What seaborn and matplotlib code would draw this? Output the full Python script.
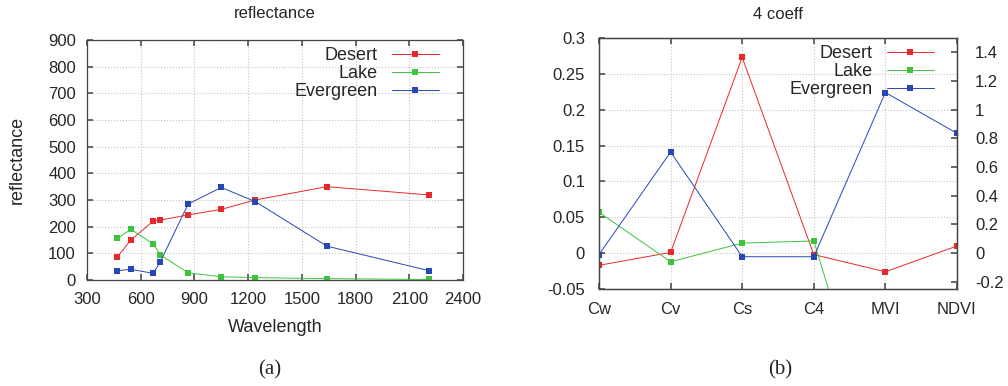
import numpy as np
import pandas as pd
import matplotlib
matplotlib.use("Agg")
import matplotlib.pyplot as plt
import seaborn as sns

# datos panel (a)
wavelength = [470, 545, 670, 710, 865, 1050, 1240, 1640, 2210]
desert_refl = [87, 150, 221, 225, 244, 265, 300, 350, 319]
lake_refl = [156, 190, 135, 94, 27, 12, 9, 5, 2]
evergreen_refl = [35, 40, 25, 69, 285, 347, 294, 127, 35]

# datos panel (b)
coeffs = ["Cw", "Cv", "Cs", "C4", "MVI", "NDVI"]
desert_coef = [-0.017, 0.001, 0.273, -0.002, -0.026, 0.01]
lake_coef = [0.057, -0.012, 0.014, 0.017, -0.31, -0.3]
evergreen_coef = [-0.002, 0.141, -0.005, -0.005, 0.224, 0.167]

series = ["Desert", "Lake", "Evergreen"]
colores = {"Desert": "#e8282a", "Lake": "#3cc43c", "Evergreen": "#2846b4"}

sns.set_theme(style="ticks")
plt.rcParams["font.family"] = ["Liberation Sans", "DejaVu Sans"]

df_a = pd.concat([
    pd.DataFrame({"x": wavelength, "y": vals, "serie": name})
    for name, vals in zip(series, [desert_refl, lake_refl, evergreen_refl])
])
pos = np.arange(len(coeffs))
df_b = pd.concat([
    pd.DataFrame({"x": pos, "y": vals, "serie": name})
    for name, vals in zip(series, [desert_coef, lake_coef, evergreen_coef])
])

fig = plt.figure(figsize=(10.08, 3.86), dpi=100)
ax1 = fig.add_axes([87 / 1008, 1 - 280 / 386, 376 / 1008, 240 / 386])
ax2 = fig.add_axes([599 / 1008, 1 - 289 / 386, 358 / 1008, 251 / 386])


def estilo(ax, pad_y):
    ax.grid(True, linestyle=":", color="#c4c4c4", linewidth=0.8)
    ax.tick_params(direction="in", top=True, right=True, labelsize=12,
                   color="#555555", length=4)
    ax.tick_params(axis="y", pad=pad_y)
    ax.tick_params(axis="x", pad=9)
    for s in ax.spines.values():
        s.set_color("#444444")
        s.set_linewidth(0.9)


def leyenda(ax):
    ax.legend(loc="upper right", frameon=False, markerfirst=False, fontsize=13,
              handlelength=2.6, labelspacing=0.05, borderaxespad=0.0,
              handletextpad=0.8, bbox_to_anchor=(0.955, 1.0))


# panel (a)
sns.lineplot(data=df_a, x="x", y="y", hue="serie", hue_order=series,
             palette=colores, marker="s", markersize=5, markeredgewidth=0,
             linewidth=0.7, ax=ax1)
ax1.set_xlim(300, 2400)
ax1.set_ylim(0, 900)
ax1.set_xticks(np.arange(300, 2401, 300))
ax1.set_yticks(np.arange(0, 901, 100))
ax1.set_xlabel("Wavelength", fontsize=13, labelpad=8)
ax1.set_ylabel("reflectance", fontsize=13, labelpad=16)
ax1.set_title("reflectance", fontsize=12, pad=16)
estilo(ax1, 8)
leyenda(ax1)

# panel (b)
sns.lineplot(data=df_b, x="x", y="y", hue="serie", hue_order=series,
             palette=colores, marker="s", markersize=5, markeredgewidth=0,
             linewidth=0.7, ax=ax2)
ax2.set_xlim(0, len(coeffs) - 1)
ax2.set_ylim(-0.05, 0.3)
ax2.set_xticks(pos)
ax2.set_xticklabels(coeffs)
ax2.set_yticks(np.arange(-0.05, 0.301, 0.05))
ax2.set_yticklabels(["-0.05", "0", "0.05", "0.1", "0.15", "0.2", "0.25", "0.3"])
ax2.set_xlabel("")
ax2.set_ylabel("")
ax2.set_title("4 coeff", fontsize=12, pad=14)
estilo(ax2, 10)
ax2.tick_params(right=False)
leyenda(ax2)

ax3 = ax2.twinx()
ax3.set_ylim(-0.25, 1.5)
ax3.set_yticks(np.arange(-0.2, 1.41, 0.2))
ax3.set_yticklabels(["-0.2", "0", "0.2", "0.4", "0.6", "0.8", "1", "1.2", "1.4"])
ax3.tick_params(direction="in", labelsize=12, color="#555555", length=4, pad=13)
for s in ax3.spines.values():
    s.set_color("#444444")
    s.set_linewidth(0.9)

fig.text(270 / 1008, 1 - 370 / 386, "(a)", fontsize=15, ha="center", va="center",
         family=["Liberation Serif", "DejaVu Serif"])
fig.text(780 / 1008, 1 - 370 / 386, "(b)", fontsize=15, ha="center", va="center",
         family=["Liberation Serif", "DejaVu Serif"])

fig.savefig("out.png", dpi=100)
